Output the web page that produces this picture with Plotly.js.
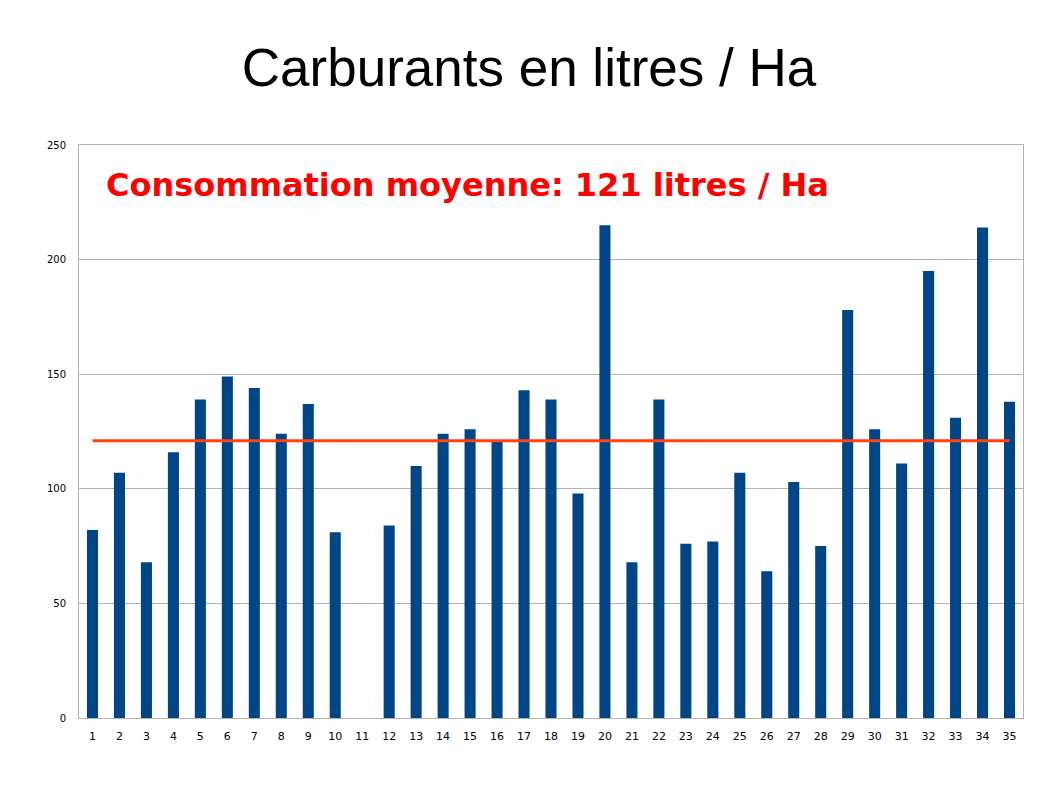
<!DOCTYPE html>
<html>
<head>
<meta charset="utf-8">
<script src="https://cdn.plot.ly/plotly-3.0.1.min.js"></script>
<style>html,body{margin:0;padding:0;background:#fff;}#chart{width:1058px;height:793px;}</style>
</head>
<body>
<div id="chart"></div>
<script>
const categories = ["1","2","3","4","5","6","7","8","9","10","11","12","13","14","15","16","17","18","19","20","21","22","23","24","25","26","27","28","29","30","31","32","33","34","35"];
const consumption = [82,107,68,116,139,149,144,124,137,81,0,84,110,124,126,121,143,139,98,215,68,139,76,77,107,64,103,75,178,126,111,195,131,214,138];
const averageValue = 121;
const averageLine = categories.map(() => averageValue);
const yTicks = [0,50,100,150,200,250];

const traces = [
  {type:'bar', x:categories, y:consumption, marker:{color:'#004586'}, hoverinfo:'x+y'},
  {type:'scatter', mode:'lines', x:categories, y:averageLine, line:{color:'#ff420e', width:3}, hoverinfo:'y'}
];

const layout = {
  width:1058, height:793,
  margin:{l:79, r:35, t:145, b:75},
  paper_bgcolor:'#fff', plot_bgcolor:'#fff',
  showlegend:false,
  bargap:0.59,
  title:{text:'Carburants en litres / Ha', font:{family:'Liberation Sans, Arial, sans-serif', size:53, color:'#000'}, x:0.5, xanchor:'center', y:0.915, yanchor:'middle'},
  xaxis:{type:'category', tickvals:categories, ticktext:categories, showgrid:false, showline:true, linecolor:'#b3b3b3', mirror:true, ticks:'', tickfont:{family:'DejaVu Sans, Verdana, sans-serif', size:11, color:'#000'}, ticklabelstandoff:8},
  yaxis:{range:[0,250], tickvals:yTicks, ticktext:yTicks.map(String), showgrid:true, gridcolor:'#b3b3b3', showline:true, linecolor:'#b3b3b3', mirror:true, zeroline:false, ticks:'', tickfont:{family:'DejaVu Sans, Verdana, sans-serif', size:10, color:'#000'}, ticklabelstandoff:10},
  annotations:[{text:'<b>Consommation moyenne: 121 litres / Ha</b>', xref:'paper', yref:'paper', x:0.026, y:0.93, xanchor:'left', yanchor:'middle', showarrow:false, font:{family:'Comic Sans MS, DejaVu Sans, sans-serif', size:32, color:'#ff0000'}}]
};

Plotly.newPlot('chart', traces, layout, {displayModeBar:false, staticPlot:true});
</script>
</body>
</html>
